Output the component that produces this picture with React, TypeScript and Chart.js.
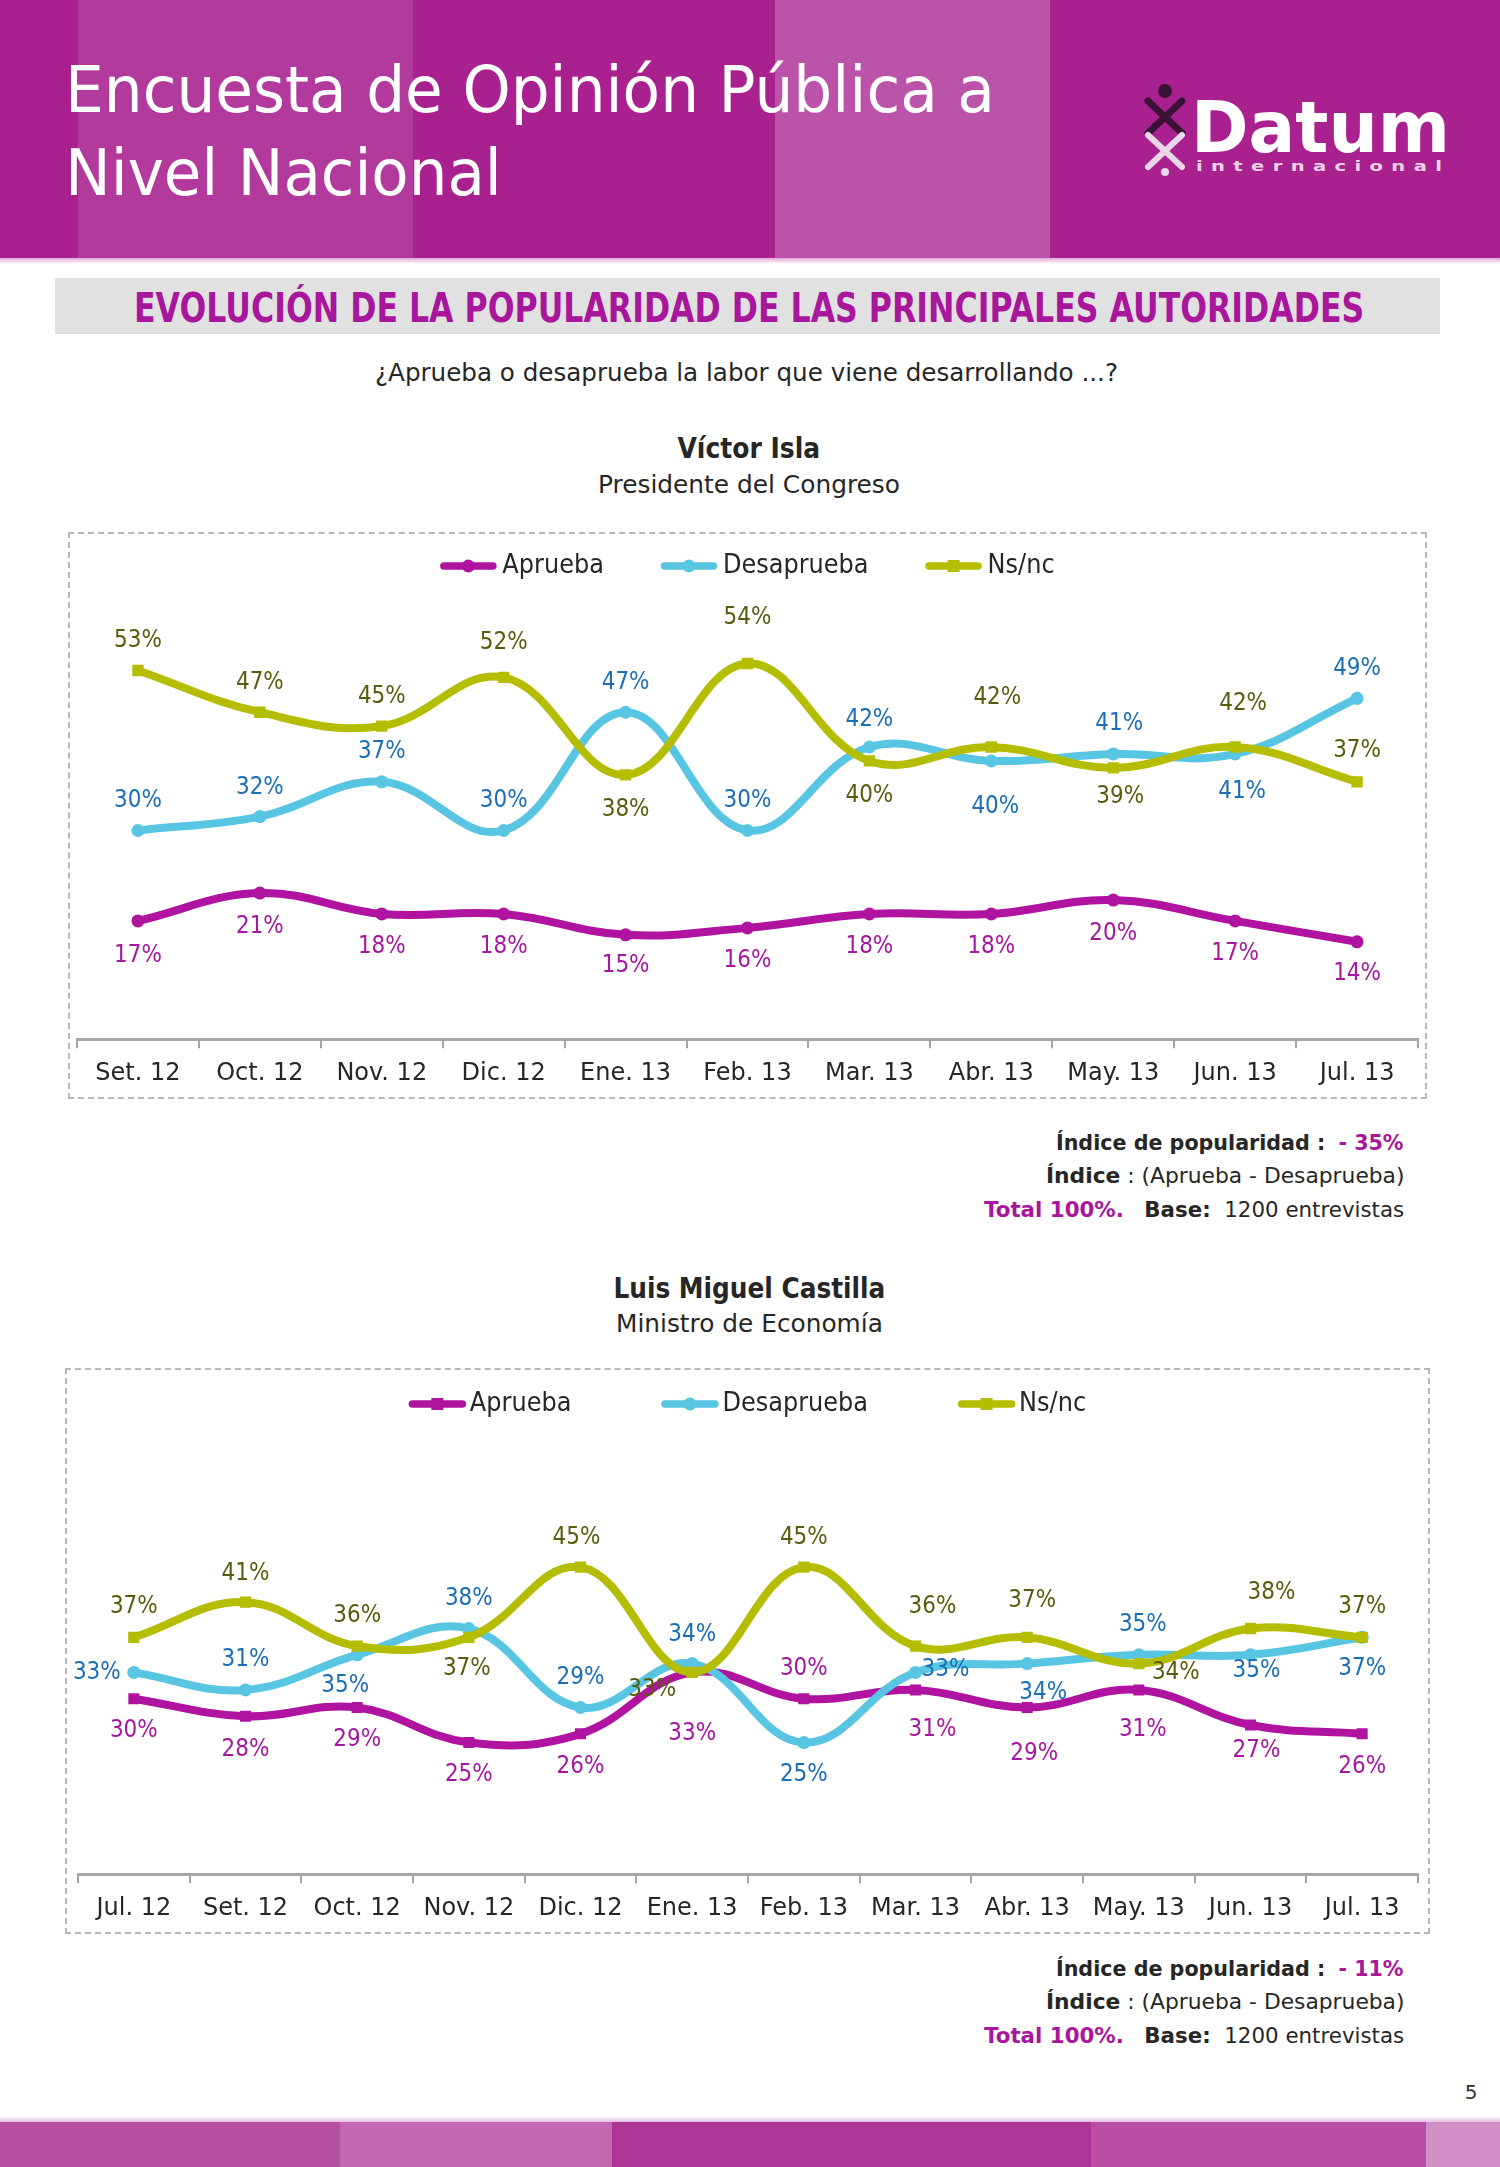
import React, { useEffect, useLayoutEffect, useRef } from 'react';
import { Chart, registerables } from 'chart.js';

Chart.register(...registerables);

const FONT = '"DejaVu Sans", Verdana, sans-serif';

// ---------- data ----------
const SERIES = ['Aprueba', 'Desaprueba', 'Ns/nc'];

const C1_LABELS = ['Set. 12', 'Oct. 12', 'Nov. 12', 'Dic. 12', 'Ene. 13', 'Feb. 13', 'Mar. 13', 'Abr. 13', 'May. 13', 'Jun. 13', 'Jul. 13'];
const C1_APRUEBA = [17, 21, 18, 18, 15, 16, 18, 18, 20, 17, 14];
const C1_DESAPRUEBA = [30, 32, 37, 30, 47, 30, 42, 40, 41, 41, 49];
const C1_NSNC = [53, 47, 45, 52, 38, 54, 40, 42, 39, 42, 37];

const C2_LABELS = ['Jul. 12', 'Set. 12', 'Oct. 12', 'Nov. 12', 'Dic. 12', 'Ene. 13', 'Feb. 13', 'Mar. 13', 'Abr. 13', 'May. 13', 'Jun. 13', 'Jul. 13'];
const C2_APRUEBA = [30, 28, 29, 25, 26, 33, 30, 31, 29, 31, 27, 26];
const C2_DESAPRUEBA = [33, 31, 35, 38, 29, 34, 25, 33, 34, 35, 35, 37];
const C2_NSNC = [37, 41, 36, 37, 45, 33, 45, 36, 37, 34, 38, 37];

// ---------- styling ----------
const LINE_COLORS = ['#AF139F', '#58C5E3', '#B4BD00'];
const LABEL_COLORS = ['#A4179E', '#1C6EB5', '#5B5B0F'];

// value-label offsets [dx, dy] from each point (styling only)
const C1_LABEL_OFFSETS: [number, number][][] = [
  [[0, 35], [0, 33], [0, 33], [0, 33], [0, 31], [0, 33], [0, 33], [0, 33], [0, 33], [0, 33], [0, 32]],
  [[0, -30], [0, -29], [0, -30], [0, -30], [0, -30], [0, -30], [0, -28], [4, 46], [6, -30], [7, 38], [0, -30]],
  [[0, -30], [0, -30], [0, -30], [0, -35], [0, 35], [0, -46], [0, 35], [6, -50], [7, 29], [8, -44], [0, -31]],
];
const C2_LABEL_OFFSETS: [number, number][][] = [
  [[0, 32], [0, 33], [0, 32], [0, 32], [0, 33], [0, 61], [0, -30], [17, 40], [7, 46], [4, 40], [6, 25], [0, 33]],
  [[-37, 0], [0, -30], [-12, 31], [0, -30], [0, -30], [0, -29], [0, 32], [30, -3], [16, 29], [4, -30], [6, 16], [0, 31]],
  [[0, -31], [0, -29], [0, -31], [-2, 31], [-4, -30], [-40, 17], [0, -30], [17, -40], [5, -37], [37, 9], [21, -36], [0, -31]],
];

type LegendCfg = { y: number; iconW: number; textGap: number; itemGap: number; size: number; sx: number };

function makeLegendPlugin(cfg: LegendCfg) {
  return {
    id: 'lineLegend',
    afterDraw(chart: any) {
      const ctx: CanvasRenderingContext2D = chart.ctx;
      ctx.save();
      ctx.font = `${cfg.size}px ${FONT}`;
      const items = chart.data.datasets.map((ds: any) => ({ ds, tw: ctx.measureText(ds.label).width * cfg.sx }));
      const total =
        items.reduce((s: number, it: any) => s + cfg.iconW + cfg.textGap + it.tw, 0) + cfg.itemGap * (items.length - 1);
      let x = (chart.width - total) / 2;
      items.forEach(({ ds, tw }: any) => {
        const color = ds.borderColor;
        ctx.strokeStyle = color;
        ctx.lineWidth = 7.5;
        ctx.lineCap = 'round';
        ctx.beginPath();
        ctx.moveTo(x + 3.5, cfg.y);
        ctx.lineTo(x + cfg.iconW - 3.5, cfg.y);
        ctx.stroke();
        ctx.fillStyle = color;
        const cx = x + cfg.iconW / 2;
        if (ds.pointStyle === 'rect') {
          ctx.fillRect(cx - 6, cfg.y - 6, 12, 12);
        } else {
          ctx.beginPath();
          ctx.arc(cx, cfg.y, 6.5, 0, Math.PI * 2);
          ctx.fill();
        }
        ctx.fillStyle = '#262626';
        ctx.textAlign = 'left';
        ctx.textBaseline = 'middle';
        ctx.save();
        ctx.translate(x + cfg.iconW + cfg.textGap, cfg.y);
        ctx.scale(cfg.sx, 1);
        ctx.fillText(ds.label, 0, 0);
        ctx.restore();
        x += cfg.iconW + cfg.textGap + tw + cfg.itemGap;
      });
      ctx.restore();
    },
  };
}

function makeLabelPlugin(offsets: [number, number][][], size: number, sx: number) {
  return {
    id: 'valueLabels',
    afterDatasetsDraw(chart: any) {
      const ctx: CanvasRenderingContext2D = chart.ctx;
      ctx.save();
      ctx.font = `${size}px ${FONT}`;
      ctx.textAlign = 'center';
      ctx.textBaseline = 'middle';
      chart.data.datasets.forEach((ds: any, i: number) => {
        const meta = chart.getDatasetMeta(i);
        ctx.fillStyle = LABEL_COLORS[i];
        meta.data.forEach((pt: any, j: number) => {
          const [dx, dy] = offsets[i][j];
          ctx.save();
          ctx.translate(pt.x + dx, pt.y + dy);
          ctx.scale(sx, 1);
          ctx.fillText(`${ds.data[j]}%`, 0, 0);
          ctx.restore();
        });
      });
      ctx.restore();
    },
  };
}

type ChartProps = {
  left: number;
  top: number;
  width: number;
  height: number;
  labels: string[];
  values: number[][];
  pointStyles: string[];
  pointRadii: number[];
  yMin: number;
  yMax: number;
  padding: { left: number; right: number; top: number; bottom: number };
  legend: LegendCfg;
  offsets: [number, number][][];
};

function LineChart(p: ChartProps) {
  const ref = useRef<HTMLCanvasElement>(null);
  useEffect(() => {
    const canvas = ref.current!;
    const chart = new Chart(canvas, {
      type: 'line',
      data: {
        labels: p.labels,
        datasets: p.values.map((vals, i) => ({
          label: SERIES[i],
          data: vals,
          borderColor: LINE_COLORS[i],
          backgroundColor: LINE_COLORS[i],
          pointBackgroundColor: LINE_COLORS[i],
          pointBorderColor: LINE_COLORS[i],
          pointBorderWidth: 0,
          pointStyle: p.pointStyles[i] as any,
          pointRadius: p.pointRadii[i],
          pointHoverRadius: p.pointRadii[i],
          borderWidth: 8,
          borderCapStyle: 'round',
          borderJoinStyle: 'round',
          tension: 0.4,
          fill: false,
          order: 3 - i,
        })),
      },
      options: {
        animation: false,
        responsive: false,
        events: [],
        layout: { padding: p.padding },
        plugins: { legend: { display: false }, tooltip: { enabled: false }, title: { display: false } },
        scales: {
          x: {
            type: 'category',
            offset: true,
            grid: {
              display: true,
              drawOnChartArea: false,
              drawTicks: true,
              tickLength: 9,
              offset: true,
              color: '#A6A6A6',
              lineWidth: 2,
            },
            border: { display: true, color: '#A6A6A6', width: 3 },
            ticks: {
              color: '#262626',
              font: { family: FONT, size: 24 },
              padding: 11,
              maxRotation: 0,
              autoSkip: false,
            },
          },
          y: { display: false, min: p.yMin, max: p.yMax },
        },
      },
      plugins: [makeLegendPlugin(p.legend), makeLabelPlugin(p.offsets, 25, 0.86)],
    } as any);
    return () => chart.destroy();
  }, []);
  return (
    <canvas
      ref={ref}
      width={p.width}
      height={p.height}
      style={{ position: 'absolute', left: p.left, top: p.top, width: p.width, height: p.height }}
    />
  );
}

type FitProps = {
  x: number;
  y: number;
  w: number;
  size: number;
  align?: 'left' | 'center' | 'right';
  weight?: number | string;
  color?: string;
  spacing?: number;
  children: React.ReactNode;
};

function FitText({ x, y, w, size, align = 'left', weight = 400, color = '#262626', spacing = 0, children }: FitProps) {
  const ref = useRef<HTMLSpanElement>(null);
  useLayoutEffect(() => {
    const el = ref.current;
    if (!el) return;
    const nat = el.offsetWidth;
    if (nat > 0) el.style.transform = `scaleX(${w / nat})`;
  });
  const left = align === 'left' ? x : align === 'center' ? x - w / 2 : x - w;
  const jc = align === 'left' ? 'flex-start' : align === 'center' ? 'center' : 'flex-end';
  const origin = align === 'left' ? 'left center' : align === 'center' ? 'center center' : 'right center';
  return (
    <div
      style={{
        position: 'absolute',
        left,
        top: y - size / 2,
        width: w,
        height: size,
        display: 'flex',
        alignItems: 'center',
        justifyContent: jc,
        lineHeight: `${size}px`,
      }}
    >
      <span
        ref={ref}
        style={{
          display: 'inline-block',
          flex: 'none',
          whiteSpace: 'pre',
          fontFamily: FONT,
          fontSize: size,
          fontWeight: weight as any,
          color,
          letterSpacing: spacing,
          transformOrigin: origin,
        }}
      >
        {children}
      </span>
    </div>
  );
}

const MAG_TEXT = '#A8169C';

function Footer({ y0, step, index }: { y0: number; step: number; index: string }) {
  return (
    <>
      <FitText x={1404} y={y0} w={348} size={21} align="right">
        <b>Índice de popularidad :</b>
        {'  '}
        <b style={{ color: MAG_TEXT }}>{index}</b>
      </FitText>
      <FitText x={1404} y={y0 + step} w={358} size={21} align="right">
        <b>Índice</b> : (Aprueba - Desaprueba)
      </FitText>
      <FitText x={1404} y={y0 + 2 * step} w={420} size={21} align="right">
        <b style={{ color: MAG_TEXT }}>Total 100%.</b>
        {'   '}
        <b>Base:</b>
        {'  '}1200 entrevistas
      </FitText>
    </>
  );
}

function Logo() {
  return (
    <>
      <svg
        width={46}
        height={94}
        viewBox="0 0 46 94"
        style={{ position: 'absolute', left: 1142, top: 83 }}
      >
        <circle cx={23} cy={8} r={7} fill="#3A1236" />
        <path d="M6 18 Q23 34 40 50" stroke="#3A1236" strokeWidth={7} fill="none" strokeLinecap="round" />
        <path d="M40 18 Q23 34 6 50" stroke="#3A1236" strokeWidth={7} fill="none" strokeLinecap="round" />
        <path d="M6 52 Q23 68 40 84" stroke="#E9D6E6" strokeWidth={6} fill="none" strokeLinecap="round" />
        <path d="M40 52 Q23 68 6 84" stroke="#E9D6E6" strokeWidth={6} fill="none" strokeLinecap="round" />
        <circle cx={23} cy={89} r={4} fill="#E9D6E6" />
      </svg>
      <FitText x={1191} y={127} w={259} size={72} weight={700} color="#FFFFFF">
        Datum
      </FitText>
      <FitText x={1196} y={166} w={254} size={14} weight={700} color="#EBD3E6" spacing={6}>
        internacional
      </FitText>
    </>
  );
}

export default function App() {
  return (
    <div
      style={{
        position: 'absolute',
        left: 0,
        top: 0,
        width: 1500,
        height: 2167,
        overflow: 'hidden',
        background: '#FFFFFF',
        fontFamily: FONT,
      }}
    >
      {/* header band */}
      <div style={{ position: 'absolute', left: 0, top: 0, width: 1500, height: 258, background: '#A9218F' }} />
      <div style={{ position: 'absolute', left: 78, top: 0, width: 335, height: 258, background: '#B23A9C' }} />
      <div style={{ position: 'absolute', left: 775, top: 0, width: 275, height: 258, background: '#BB53A8' }} />
      <div
        style={{
          position: 'absolute',
          left: 0,
          top: 258,
          width: 1500,
          height: 6,
          background: 'linear-gradient(#E2A9D8, #FFFFFF)',
        }}
      />
      <FitText x={65} y={89.5} w={930} size={64} color="#FFFFFF">
        Encuesta de Opinión Pública a
      </FitText>
      <FitText x={65} y={173} w={437} size={64} color="#FFFFFF">
        Nivel Nacional
      </FitText>
      <Logo />

      {/* section title bar */}
      <div style={{ position: 'absolute', left: 55, top: 278, width: 1385, height: 56, background: '#E1E1E1' }} />
      <FitText x={749} y={307.5} w={1230} size={40} weight={700} color={MAG_TEXT} align="center">
        EVOLUCIÓN DE LA POPULARIDAD DE LAS PRINCIPALES AUTORIDADES
      </FitText>
      <FitText x={746.5} y={373} w={743} size={24} align="center">
        ¿Aprueba o desaprueba la labor que viene desarrollando ...?
      </FitText>

      {/* chart 1 */}
      <FitText x={749} y={448.5} w={143} size={28} weight={700} align="center">
        Víctor Isla
      </FitText>
      <FitText x={749} y={484} w={302} size={25} align="center">
        Presidente del Congreso
      </FitText>
      <div
        style={{
          position: 'absolute',
          left: 68,
          top: 532,
          width: 1359,
          height: 567,
          boxSizing: 'border-box',
          border: '2px dashed #B8B8B8',
        }}
      />
      <LineChart
        left={69}
        top={533}
        width={1357}
        height={566}
        labels={C1_LABELS}
        values={[C1_APRUEBA, C1_DESAPRUEBA, C1_NSNC]}
        pointStyles={['circle', 'circle', 'rect']}
        pointRadii={[6.5, 6.5, 8]}
        yMin={0}
        yMax={65}
        padding={{ left: 8, right: 6, top: 54, bottom: 0 }}
        legend={{ y: 33, iconW: 56, textGap: 6, itemGap: 57, size: 27, sx: 0.89 }}
        offsets={C1_LABEL_OFFSETS}
      />
      <Footer y0={1143} step={33.5} index="- 35%" />

      {/* chart 2 */}
      <FitText x={749} y={1288.5} w={272} size={28} weight={700} align="center">
        Luis Miguel Castilla
      </FitText>
      <FitText x={749} y={1323} w={267} size={25} align="center">
        Ministro de Economía
      </FitText>
      <div
        style={{
          position: 'absolute',
          left: 65,
          top: 1368,
          width: 1365,
          height: 566,
          boxSizing: 'border-box',
          border: '2px dashed #B8B8B8',
        }}
      />
      <LineChart
        left={66}
        top={1369}
        width={1363}
        height={565}
        labels={C2_LABELS}
        values={[C2_APRUEBA, C2_DESAPRUEBA, C2_NSNC]}
        pointStyles={['rect', 'circle', 'rect']}
        pointRadii={[7.8, 6.5, 8]}
        yMin={10}
        yMax={60}
        padding={{ left: 12, right: 11, top: 66.5, bottom: 0 }}
        legend={{ y: 35, iconW: 57, textGap: 4, itemGap: 90, size: 27, sx: 0.89 }}
        offsets={C2_LABEL_OFFSETS}
      />
      <Footer y0={1969} step={33.7} index="- 11%" />

      <div
        style={{
          position: 'absolute',
          left: 1460,
          top: 2080,
          width: 22,
          height: 24,
          fontFamily: FONT,
          fontSize: 20,
          lineHeight: '24px',
          color: '#333333',
          textAlign: 'center',
        }}
      >
        5
      </div>

      {/* bottom band */}
      <div
        style={{
          position: 'absolute',
          left: 0,
          top: 2116,
          width: 1500,
          height: 6,
          background: 'linear-gradient(#FFFFFF, #E8BEDF)',
        }}
      />
      <div style={{ position: 'absolute', left: 0, top: 2122, width: 340, height: 45, background: '#B4509F' }} />
      <div style={{ position: 'absolute', left: 340, top: 2122, width: 272, height: 45, background: '#C468B3' }} />
      <div style={{ position: 'absolute', left: 612, top: 2122, width: 479, height: 45, background: '#AE3496' }} />
      <div style={{ position: 'absolute', left: 1091, top: 2122, width: 335, height: 45, background: '#B94EA4' }} />
      <div style={{ position: 'absolute', left: 1426, top: 2122, width: 74, height: 45, background: '#D08FC5' }} />
    </div>
  );
}
